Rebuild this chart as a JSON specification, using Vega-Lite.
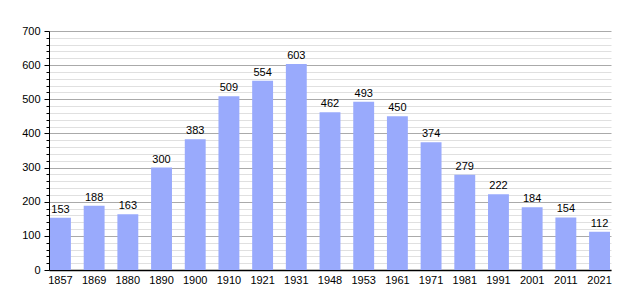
{
  "$schema": "https://vega.github.io/schema/vega-lite/v6.json",
  "width": 562,
  "height": 239,
  "autosize": {"type": "none"},
  "padding": {"left": 49, "top": 31, "right": 29, "bottom": 30},
  "background": "white",
  "config": {"view": {"stroke": null}, "font": "Liberation Sans"},
  "data": {"values": [
    {"year": "1857", "pop": 153},
    {"year": "1869", "pop": 188},
    {"year": "1880", "pop": 163},
    {"year": "1890", "pop": 300},
    {"year": "1900", "pop": 383},
    {"year": "1910", "pop": 509},
    {"year": "1921", "pop": 554},
    {"year": "1931", "pop": 603},
    {"year": "1948", "pop": 462},
    {"year": "1953", "pop": 493},
    {"year": "1961", "pop": 450},
    {"year": "1971", "pop": 374},
    {"year": "1981", "pop": 279},
    {"year": "1991", "pop": 222},
    {"year": "2001", "pop": 184},
    {"year": "2011", "pop": 154},
    {"year": "2021", "pop": 112}
  ]},
  "encoding": {
    "x": {
      "field": "year", "type": "ordinal", "sort": null,
      "scale": {"paddingInner": 0.38, "paddingOuter": 0.03},
      "axis": {"title": null, "labelAngle": 0, "ticks": false, "domainColor": "#000", "domainWidth": 1.5, "labelColor": "#000", "labelFontSize": 11, "labelPadding": 4}
    },
    "y": {
      "field": "pop", "type": "quantitative",
      "scale": {"domain": [0, 700], "nice": false},
      "axis": {
        "title": null,
        "values": [0,20,40,60,80,100,120,140,160,180,200,220,240,260,280,300,320,340,360,380,400,420,440,460,480,500,520,540,560,580,600,620,640,660,680,700],
        "labelExpr": "datum.value % 100 === 0 ? datum.label : ''",
        "grid": true,
        "gridColor": {"condition": {"test": "datum.value % 100 === 0", "value": "#aaaaaa"}, "value": "#e0e0e0"},
        "tickSize": {"condition": {"test": "datum.value % 100 === 0", "value": 5}, "value": 3},
        "tickColor": "#000",
        "domainColor": "#000",
        "labelColor": "#000",
        "labelFontSize": 11,
        "labelPadding": 4
      }
    }
  },
  "layer": [
    {"mark": {"type": "bar", "color": "#99aafc"}},
    {"mark": {"type": "text", "dy": -8, "fontSize": 11, "color": "#000"}, "encoding": {"text": {"field": "pop", "type": "quantitative"}}}
  ]
}
